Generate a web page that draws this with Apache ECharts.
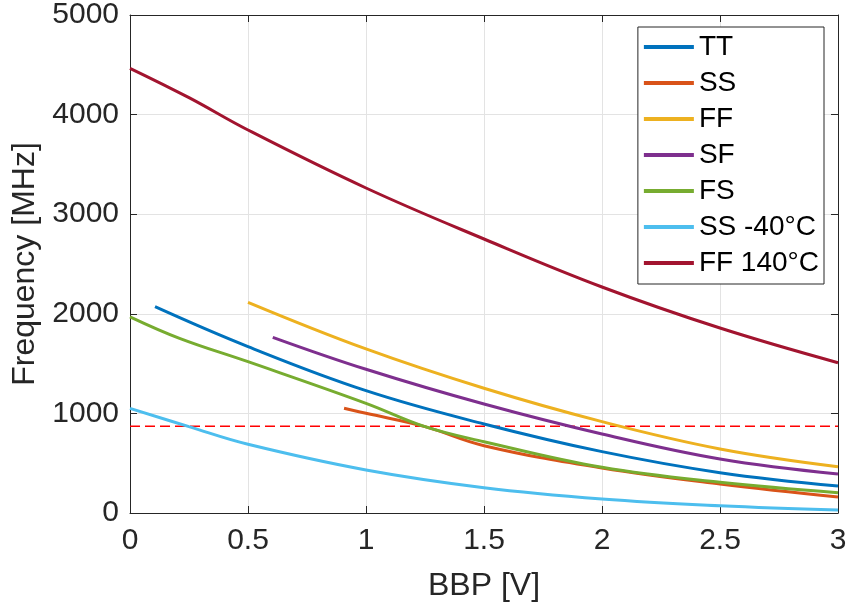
<!DOCTYPE html>
<html><head><meta charset="utf-8">
<script src="https://cdn.jsdelivr.net/npm/echarts@6/dist/echarts.min.js"></script>
<style>html,body{margin:0;padding:0;background:#fff}#c{width:850px;height:610px}</style>
</head><body><div id="c"></div>
<script>
// Data
const names = ['TT', 'SS', 'FF', 'SF', 'FS', 'SS -40°C', 'FF 140°C'];
const ttX = [0.106, 0.5, 1, 1.5, 2, 2.5, 3];
const ttY = [2071, 1670, 1228, 894, 616, 405, 271];
const ssX = [0.907, 1, 1.25, 1.5, 2, 2.5, 3];
const ssY = [1051, 1001, 867, 676, 452, 291, 161];
const ffX = [0.5, 1, 1.5, 2, 2.5, 3];
const ffY = [2115, 1647, 1252, 917, 643, 465];
const sfX = [0.605, 1, 1.5, 2, 2.5, 3];
const sfY = [1764, 1443, 1094, 793, 542, 392];
const fsX = [0, 0.21, 0.5, 1, 1.25, 1.5, 2, 2.5, 3];
const fsY = [1970, 1754, 1519, 1101, 867, 716, 459, 308, 204];
const ssColdX = [0, 0.25, 0.5, 1, 1.5, 2, 2.5, 3];
const ssColdY = [1051, 867, 690, 432, 254, 141, 73, 30];
const ffHotX = [0, 0.25, 0.5, 1, 1.5, 2, 2.5, 3];
const ffHotY = [4465, 4170, 3845, 3263, 2751, 2269, 1857, 1509];
const limitX = [0, 3];
const limitY = [870, 870];

const colors = ['#0072BD', '#D95319', '#EDB120', '#7E2F8E', '#77AC30', '#4DBEEE', '#A2142F'];
const xs = [ttX, ssX, ffX, sfX, fsX, ssColdX, ffHotX];
const ys = [ttY, ssY, ffY, sfY, fsY, ssColdY, ffHotY];
const pair = (a, b) => a.map((v, i) => [v, b[i]]);

const font = 'Liberation Sans, Arial, Helvetica, sans-serif';
const axisCol = '#262626';

const series = names.map((n, i) => ({
  name: n, type: 'line', data: pair(xs[i], ys[i]),
  showSymbol: false, symbol: 'none', smooth: 0.4,
  lineStyle: { color: colors[i], width: 3 }, itemStyle: { color: colors[i] },
  z: 3 + i
}));
series.push({
  name: 'limit', type: 'line', data: pair(limitX, limitY), symbol: 'none', showSymbol: false,
  lineStyle: { color: '#FF0000', width: 1.5, type: [10, 5] }, z: 2
});

const chart = echarts.init(document.getElementById('c'));
chart.setOption({
  animation: false,
  backgroundColor: '#fff',
  grid: { left: 130, right: 12, top: 15, bottom: 97 },
  legend: {
    data: names.map(n => ({ name: n, icon: 'rect' })),
    orient: 'vertical', right: 26, top: 27,
    backgroundColor: '#fff', borderColor: axisCol, borderWidth: 1,
    padding: [6, 5, 7, 6], itemWidth: 50, itemHeight: 4, itemGap: 8,
    textStyle: { fontFamily: font, fontSize: 28, color: '#000' }
  },
  xAxis: [{
    type: 'value', min: 0, max: 3, interval: 0.5,
    name: 'BBP [V]', nameLocation: 'middle', nameGap: 57,
    nameTextStyle: { fontFamily: font, fontSize: 32, color: axisCol },
    axisLine: { lineStyle: { color: axisCol, width: 1 } },
    axisTick: { inside: true, length: 7, lineStyle: { color: axisCol } },
    axisLabel: { fontFamily: font, fontSize: 30, color: axisCol, margin: 13 },
    splitLine: { show: true, lineStyle: { color: '#e3e3e3', width: 1 } }
  }, {
    type: 'value', min: 0, max: 3, interval: 0.5, position: 'top',
    axisLine: { show: true, onZero: false, lineStyle: { color: axisCol, width: 1 } },
    axisTick: { inside: true, length: 7, lineStyle: { color: axisCol } },
    axisLabel: { show: false }, splitLine: { show: false }
  }],
  yAxis: [{
    type: 'value', min: 0, max: 5000, interval: 1000,
    name: 'Frequency [MHz]', nameLocation: 'middle', nameGap: 86, nameRotate: 90,
    nameTextStyle: { fontFamily: font, fontSize: 32, color: axisCol },
    axisLine: { show: true, lineStyle: { color: axisCol, width: 1 } },
    axisTick: { show: true, inside: true, length: 7, lineStyle: { color: axisCol } },
    axisLabel: { fontFamily: font, fontSize: 30, color: axisCol, margin: 11, formatter: v => String(v) },
    splitLine: { show: true, lineStyle: { color: '#e3e3e3', width: 1 } }
  }, {
    type: 'value', min: 0, max: 5000, interval: 1000, position: 'right',
    axisLine: { show: true, onZero: false, lineStyle: { color: axisCol, width: 1 } },
    axisTick: { show: true, inside: true, length: 7, lineStyle: { color: axisCol } },
    axisLabel: { show: false }, splitLine: { show: false }
  }],
  series: series
});
</script>
</body></html>
